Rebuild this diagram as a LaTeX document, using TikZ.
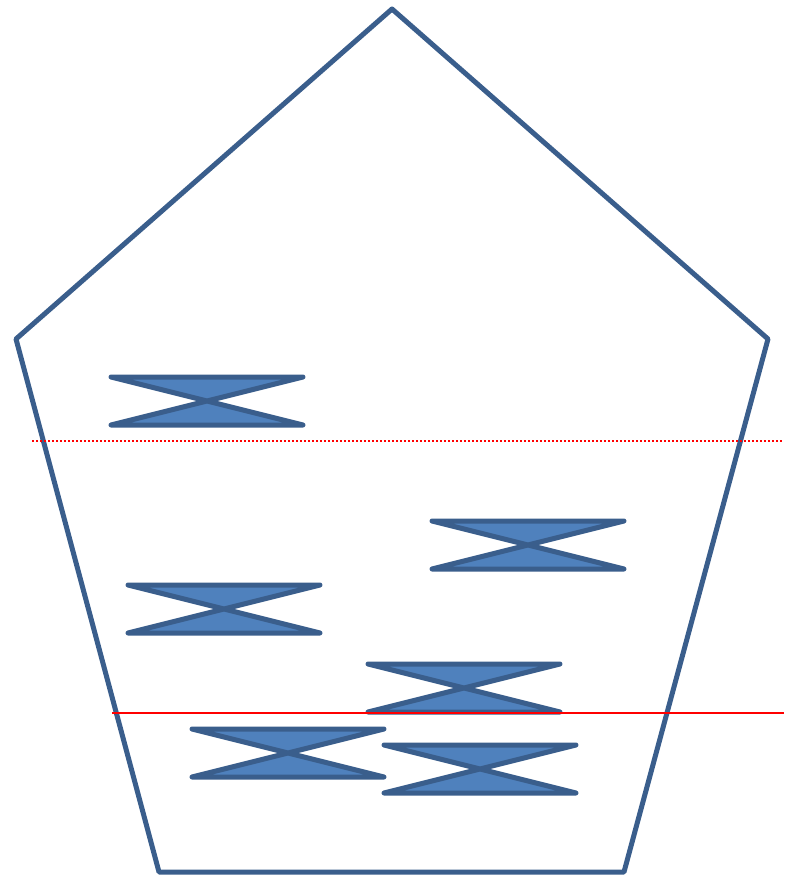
\documentclass[tikz,border=0pt]{standalone}
\begin{document}
\begin{tikzpicture}[x=1pt,y=-1pt,
  edge/.style={draw=edgeblue,line width=5pt,line join=round},
  hourglass/.style={draw=edgeblue,fill=fillblue,line width=5pt,line join=round,line cap=round},
  cut/.style={draw=red,line width=1.8pt},
  dotcut/.style={draw=red,line width=2pt,dash pattern=on 2pt off 2pt}]
\definecolor{edgeblue}{HTML}{3A5E8C}
\definecolor{fillblue}{HTML}{4F81BD}
\useasboundingbox (0,0) rectangle (791,876);
\draw[edge] (392,9) -- (768,339) -- (624,872) -- (159,872) -- (16,339) -- cycle;
\foreach \xa/\ya in {111/377, 432/521, 128/585, 368/664, 192/729, 384/745}{
  \draw[hourglass] (\xa,\ya) -- ({\xa+192},\ya) -- (\xa,{\ya+48}) -- ({\xa+192},{\ya+48}) -- cycle;
}
\coordinate (d1) at (32,440.5);
\coordinate (d2) at (782,440.5);
\draw[dotcut] (d1) -- (d2);
\coordinate (s1) at (112,713);
\coordinate (s2) at (784,713);
\draw[cut] (s1) -- (s2);
\end{tikzpicture}
\end{document}
